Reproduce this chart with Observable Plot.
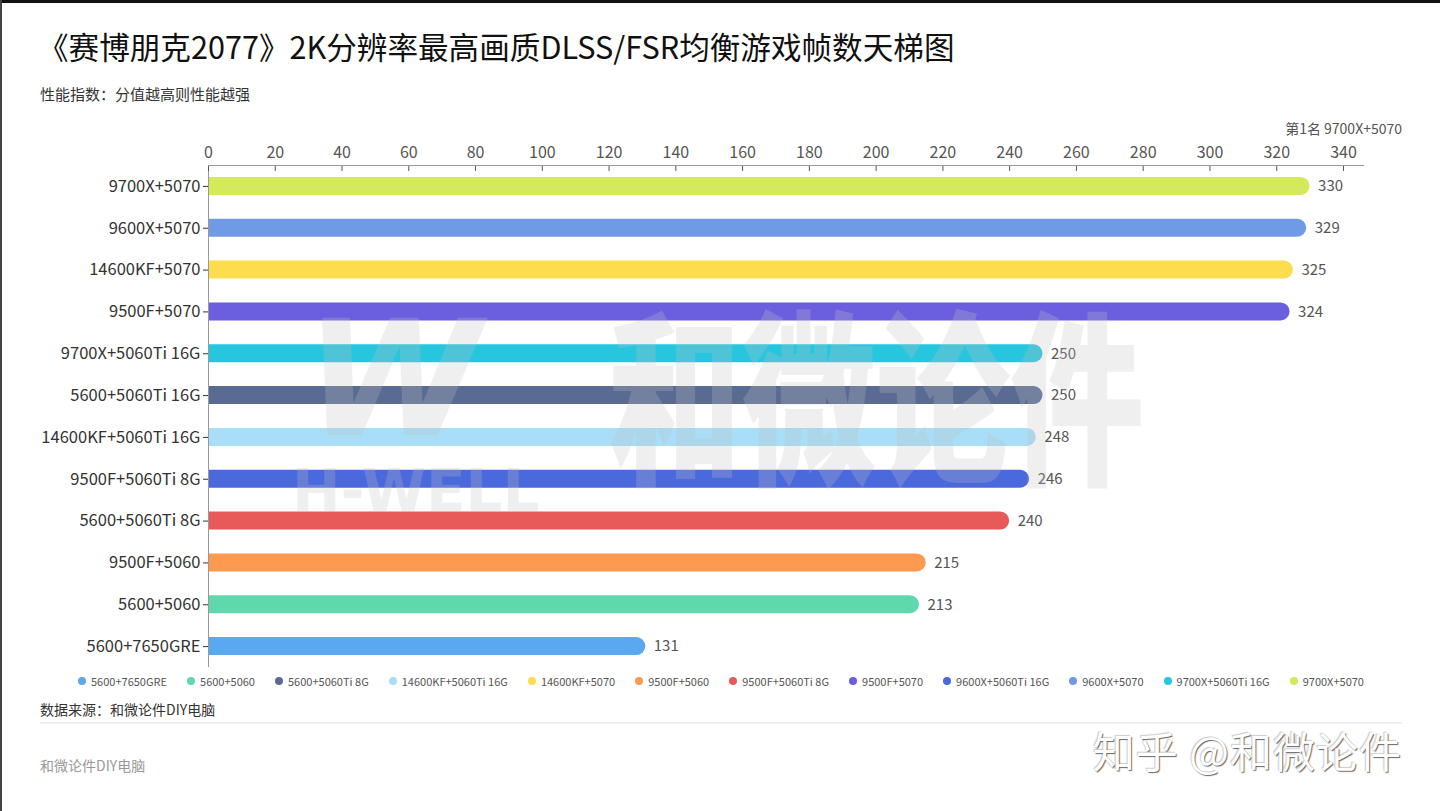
<!DOCTYPE html>
<html><head><meta charset="utf-8">
<script src="https://cdn.jsdelivr.net/npm/d3@7"></script>
<script src="https://cdn.jsdelivr.net/npm/@observablehq/plot@0.6"></script>
<style>
html,body{margin:0;padding:0;background:#fff;}
#page{position:relative;width:1440px;height:811px;overflow:hidden;font-family:"Noto Sans CJK SC","Noto Sans",sans-serif;background:#fff;}
.abs{position:absolute;white-space:nowrap;}
#legend{position:absolute;left:78px;width:1286px;top:672px;height:18px;display:flex;justify-content:space-between;align-items:center;font-size:11px;color:#555;}
#legend .item{display:flex;align-items:center;}
#legend .dot{width:8px;height:8px;border-radius:50%;margin-right:5px;}
.wm{position:absolute;pointer-events:none;color:rgba(195,195,195,0.26);font-weight:900;white-space:nowrap;transform-origin:0 0;}
</style></head>
<body>
<div id="page">
  <div class="abs" style="left:0;top:0;width:1440px;height:3px;background:#111;"></div>
  <div class="abs" style="left:0;top:0;width:2px;height:811px;background:#444;"></div>
  <div class="abs" id="title" style="left:38px;top:26px;font-size:30.6px;line-height:40px;color:#111;font-weight:400;"></div>
  <div class="abs" id="subtitle" style="left:40px;top:84px;font-size:15px;line-height:20px;color:#333;"></div>
  <div class="abs" id="top1" style="right:38px;top:119px;font-size:14px;line-height:18px;color:#555;"></div>
  <div id="chart" class="abs" style="left:0;top:120px;"></div>
  <div class="wm" style="left:305px;top:300px;font-size:160px;line-height:160px;font-style:italic;font-family:'DejaVu Sans',sans-serif;">W</div>
  <div class="wm" style="left:292px;top:462px;font-size:58px;line-height:58px;font-family:'DejaVu Sans',sans-serif;">H-WELL</div>
  <div class="wm" style="left:608px;top:295px;font-size:134px;line-height:134px;transform:scaleY(1.4);">和微论件</div>
  <div id="legend"></div>
  <div class="abs" id="source" style="left:40px;top:699px;font-size:14px;line-height:20px;color:#333;"></div>
  <div class="abs" style="left:40px;top:722px;width:1362px;height:2px;background:#eee;"></div>
  <div class="abs" id="footer" style="left:40px;top:755px;font-size:14px;line-height:20px;color:#999;"></div>
  <div class="abs" id="zhihu" style="right:38px;top:725px;font-size:42px;line-height:50px;color:#fff;letter-spacing:1px;text-shadow:1px 1px 1px #666,-1px -1px 1px #ccc;"></div>
</div>
<script>
const titleText = "《赛博朋克2077》2K分辨率最高画质DLSS/FSR均衡游戏帧数天梯图";
const subtitleText = "性能指数：分值越高则性能越强";
const top1Text = "第1名 9700X+5070";
const sourceText = "数据来源：和微论件DIY电脑";
const footerText = "和微论件DIY电脑";
const zhihuText = "知乎 @和微论件";

const categories = ["9700X+5070","9600X+5070","14600KF+5070","9500F+5070","9700X+5060Ti 16G","5600+5060Ti 16G","14600KF+5060Ti 16G","9500F+5060Ti 8G","5600+5060Ti 8G","9500F+5060","5600+5060","5600+7650GRE"];
const values = [330,329,325,324,250,250,248,246,240,215,213,131];
const barColors = ["#d4ea5b","#6f9be6","#fddc4e","#6b5fe0","#26c6de","#596b92","#a8def7","#4a69dc","#e85a5a","#fd9a4f","#5fd8ad","#5aa9f0"];
const xTicks = [0,20,40,60,80,100,120,140,160,180,200,220,240,260,280,300,320,340];
const legendLabels = ["5600+7650GRE","5600+5060","5600+5060Ti 8G","14600KF+5060Ti 16G","14600KF+5070","9500F+5060","9500F+5060Ti 8G","9500F+5070","9600X+5060Ti 16G","9600X+5070","9700X+5060Ti 16G","9700X+5070"];
const legendColors = ["#5aa9f0","#5fd8ad","#596b92","#a8def7","#fddc4e","#fd9a4f","#e85a5a","#6b5fe0","#4a69dc","#6f9be6","#26c6de","#d4ea5b"];

document.getElementById("title").textContent = titleText;
document.getElementById("subtitle").textContent = subtitleText;
document.getElementById("top1").textContent = top1Text;
document.getElementById("source").textContent = sourceText;
document.getElementById("footer").textContent = footerText;
document.getElementById("zhihu").textContent = zhihuText;

const data = categories.map((name, i) => ({name, value: values[i]}));

const chart = Plot.plot({
  width: 1440,
  height: 552,
  marginTop: 45,
  marginBottom: 5,
  marginLeft: 208,
  marginRight: 77,
  style: {fontFamily: '"Noto Sans CJK SC","Noto Sans",sans-serif', color: "#555", background: "transparent"},
  x: {domain: [0, 346]},
  y: {domain: categories, paddingInner: 0.57, paddingOuter: 0.285, round: false, label: null},
  color: {domain: categories, range: barColors},
  marks: [
    Plot.barX(data, {y: "name", x1: 0, x2: "value", fill: "name", rx: 9, insetLeft: -12, clip: true}),
    Plot.text(data, {y: "name", x: "value", text: d => String(d.value), textAnchor: "start", dx: 8, fill: "#555", fontSize: 15}),
    Plot.ruleX([0], {stroke: "#999"}),
    Plot.frame({anchor: "top", stroke: "#999"}),
    Plot.axisX({anchor: "top", ticks: xTicks, tickSize: -5, tickPadding: 13, fontSize: 16, color: "#555", label: null}),
    Plot.axisY({anchor: "left", tickSize: 5, tickPadding: 3, fontSize: 16.5, color: "#333", label: null})
  ]
});
document.getElementById("chart").appendChild(chart);

const legend = document.getElementById("legend");
legendLabels.forEach((lab, i) => {
  const item = document.createElement("div");
  item.className = "item";
  const dot = document.createElement("span");
  dot.className = "dot";
  dot.style.background = legendColors[i];
  const t = document.createElement("span");
  t.textContent = lab;
  item.appendChild(dot);
  item.appendChild(t);
  legend.appendChild(item);
});
</script>
</body></html>
